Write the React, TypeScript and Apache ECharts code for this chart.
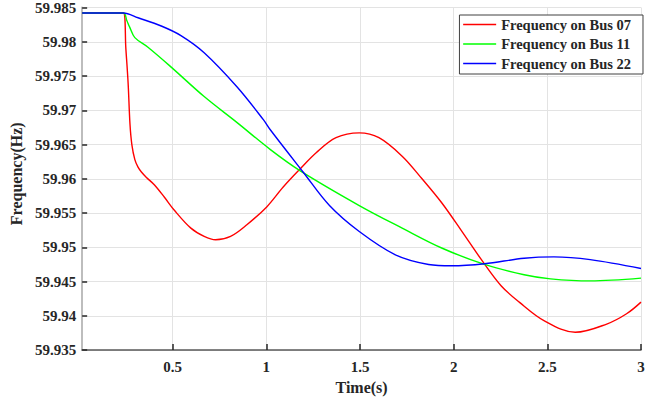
import React, { useEffect, useRef } from "react";
import * as echarts from "echarts";

const seriesNames = ["Frequency on Bus 07", "Frequency on Bus 11", "Frequency on Bus 22"];
const seriesColors = ["#ff0000", "#00ff00", "#0000ff"];

const timeBus07 = [0.0167, 0.237, 0.25, 0.262, 0.272, 0.282, 0.298, 0.315, 0.333, 0.36, 0.403, 0.456, 0.509, 0.597, 0.668, 0.729, 0.809, 0.896, 1.002, 1.09, 1.179, 1.266, 1.372, 1.496, 1.601, 1.725, 1.831, 1.936, 2.042, 2.148, 2.253, 2.35, 2.482, 2.649, 2.817, 2.923, 3.0];
const freqBus07 = [59.9842, 59.9842, 59.979, 59.974, 59.968, 59.965, 59.9628, 59.9617, 59.961, 59.9602, 59.9591, 59.9573, 59.9554, 59.9528, 59.9516, 59.9511, 59.9516, 59.9533, 59.9559, 59.9588, 59.9614, 59.9638, 59.966, 59.9667, 59.966, 59.9633, 59.96, 59.9565, 59.9524, 59.9482, 59.9444, 59.942, 59.9393, 59.9376, 59.9388, 59.9403, 59.942];

const timeBus11 = [0.0167, 0.237, 0.255, 0.271, 0.298, 0.368, 0.492, 0.668, 0.844, 1.02, 1.179, 1.496, 1.725, 1.936, 2.165, 2.376, 2.517, 2.729, 3.0];
const freqBus11 = [59.9842, 59.9842, 59.9831, 59.9821, 59.9806, 59.9792, 59.9763, 59.972, 59.9682, 59.9643, 59.9612, 59.9561, 59.9528, 59.9499, 59.9475, 59.946, 59.9454, 59.9451, 59.9455];

const timeBus22 = [0.0167, 0.237, 0.315, 0.439, 0.544, 0.668, 0.844, 0.985, 1.02, 1.196, 1.337, 1.496, 1.689, 1.866, 1.989, 2.165, 2.376, 2.535, 2.729, 3.0];
const freqBus22 = [59.9842, 59.9842, 59.9835, 59.9823, 59.9809, 59.9784, 59.9734, 59.9686, 59.9672, 59.961, 59.9561, 59.9523, 59.9489, 59.9475, 59.9473, 59.9476, 59.9484, 59.9486, 59.9482, 59.9469];

const xTicks = [0.5, 1, 1.5, 2, 2.5, 3];
const xMin = 0.0167;
const xMax = 3;
const yMin = 59.935;
const yMax = 59.985;
const yStep = 0.005;

const font = "'Liberation Serif', 'Times New Roman', serif";
const textColor = "#262626";

export default function App() {
  const ref = useRef<HTMLDivElement>(null);
  useEffect(() => {
    if (!ref.current) return;
    const chart = echarts.init(ref.current, undefined, { renderer: "svg" });
    const times = [timeBus07, timeBus11, timeBus22];
    const freqs = [freqBus07, freqBus11, freqBus22];
    chart.setOption({
      animation: false,
      backgroundColor: "#ffffff",
      grid: { left: 77, right: 16, top: 6, bottom: 47 },
      legend: {
        orient: "vertical",
        right: 14,
        top: 15,
        itemWidth: 33,
        itemHeight: 14,
        itemGap: 4.5,
        padding: [2, 12, 3, 3],
        borderColor: "#404040",
        borderWidth: 1,
        backgroundColor: "#ffffff",
        itemStyle: { opacity: 0 },
        lineStyle: { width: 1.4 },
        textStyle: { fontFamily: font, fontWeight: "bold", fontSize: 14.5, color: textColor },
        data: seriesNames,
      },
      xAxis: {
        type: "value",
        min: xMin,
        max: xMax,
        name: "Time(s)",
        nameLocation: "middle",
        nameGap: 28,
        nameTextStyle: { fontFamily: font, fontWeight: "bold", fontSize: 16, color: textColor },
        axisLine: { show: true, lineStyle: { color: "#5a5a5a", width: 1.5 } },
        axisTick: { show: true, inside: true, length: 6, customValues: xTicks, lineStyle: { color: "#262626", width: 1.5 } },
        axisLabel: {
          customValues: xTicks,
          margin: 9,
          fontFamily: font,
          fontWeight: "bold",
          fontSize: 15,
          color: textColor,
          formatter: (v: number) => String(parseFloat(v.toFixed(2))),
        },
        splitLine: { show: true, lineStyle: { color: "#e3e3e3", width: 1 } },
      },
      yAxis: {
        type: "value",
        min: yMin,
        max: yMax,
        interval: yStep,
        name: "Frequency(Hz)",
        nameLocation: "middle",
        nameGap: 50,
        nameTextStyle: { fontFamily: font, fontWeight: "bold", fontSize: 16, color: textColor, padding: [0, 0, 0, 10] },
        axisLine: { show: true, lineStyle: { color: "#bdbdbd", width: 2 } },
        axisTick: { show: true, inside: true, length: 5, lineStyle: { color: "#262626", width: 1.5 } },
        axisLabel: {
          margin: 6,
          fontFamily: font,
          fontWeight: "bold",
          fontSize: 15,
          color: textColor,
          formatter: (v: number) => String(parseFloat(v.toFixed(3))),
        },
        splitLine: { show: true, lineStyle: { color: "#e3e3e3", width: 1 } },
      },
      series: seriesNames.map((name, i) => ({
        name,
        type: "line",
        symbol: "none",
        smooth: 0.35,
        color: seriesColors[i],
        lineStyle: { color: seriesColors[i], width: 1.4 },
        data: times[i].map((t, j) => [t, freqs[i][j]]),
      })),
    });
    return () => chart.dispose();
  }, []);
  return <div ref={ref} style={{ width: 657, height: 400, position: "absolute", left: 0, top: 0 }} />;
}
